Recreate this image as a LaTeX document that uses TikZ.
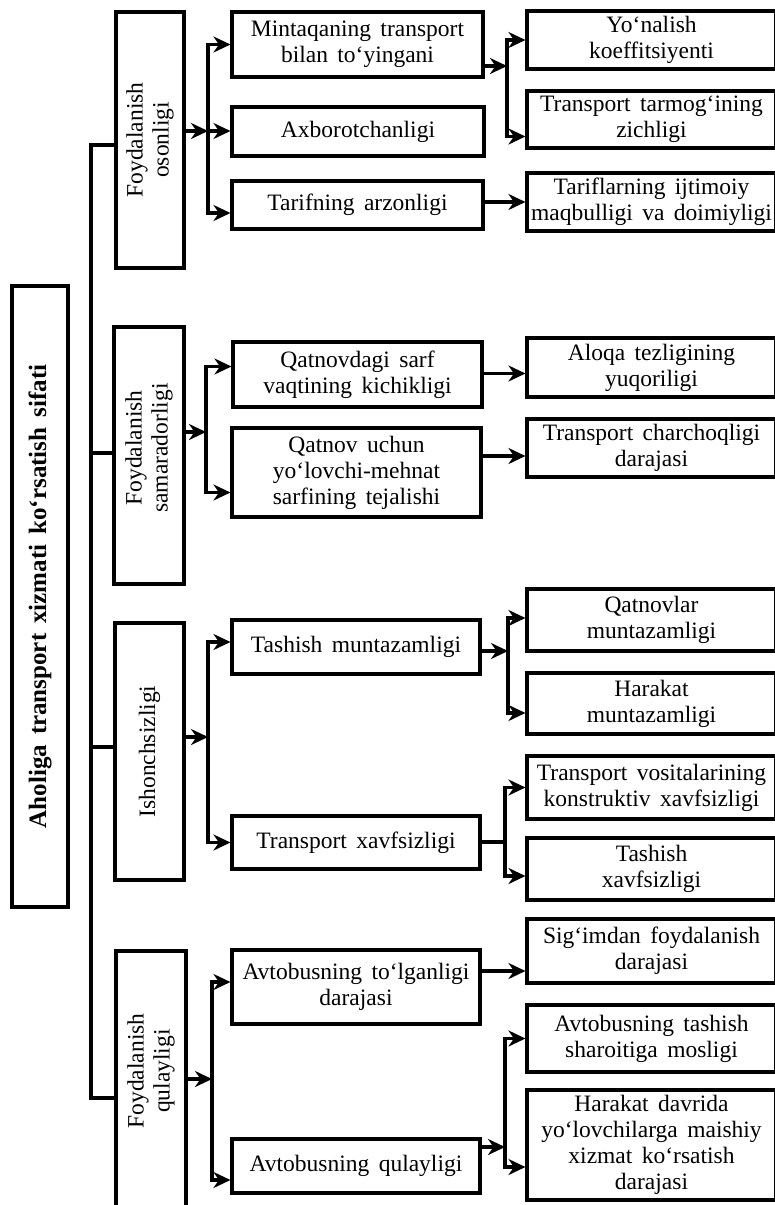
\documentclass[tikz,border=0pt]{standalone}
\usepackage{fontspec}
\setmainfont{Liberation Serif}[WordSpace=1.6]
\usetikzlibrary{arrows.meta}
\begin{document}
\begin{tikzpicture}[x=1pt,y=-1pt,
  box/.style={draw, line width=3.1pt, inner sep=0pt, align=center, font=\fontsize{23.5}{26}\selectfont},
  vbox/.style={box, rotate=90},
  arr/.style={line width=3.1pt, -{Stealth[length=17pt,width=16pt,inset=5.5pt]}},
  ln/.style={line width=3.1pt}]
\path[use as bounding box] (0,0) rectangle (775,1205);
\clip (0,0) rectangle (775,1205);

% main box
\node[vbox, minimum width=621pt, minimum height=56pt, font=\fontsize{25}{27}\selectfont\bfseries] (main) at (40,596.5) {Aholiga transport xizmati ko‘rsatish sifati};

% level-1 boxes (rotated)
\node[vbox, minimum width=256pt, minimum height=68pt] (A1) at (150,140) {Foydalanish\\osonligi};
\node[vbox, minimum width=257pt, minimum height=70pt] (A2) at (149,455.5) {};
\node[rotate=90, align=center, inner sep=0pt, font=\fontsize{23.5}{26}\selectfont] (A2t) at (149,448) {Foydalanish\\samaradorligi};
\node[vbox, minimum width=257pt, minimum height=69pt] (A3) at (149.5,751.5) {Ishonchsizligi};
\node[vbox, minimum width=279pt, minimum height=70pt] (A4) at (151,1090.5) {};
\node[rotate=90, align=center, inner sep=0pt, font=\fontsize{23.5}{26}\selectfont] (A4t) at (151,1071) {Foydalanish\\qulayligi};

% level-2 boxes
\node[box, minimum width=251pt, minimum height=65pt] (M1) at (357.5,44.5) {Mintaqaning transport\\bilan to‘yingani};
\node[box, minimum width=252pt, minimum height=49pt] (M2) at (358,131.5) {Axborotchanligi};
\node[box, minimum width=251pt, minimum height=48pt] (M3) at (357.5,205) {Tarifning arzonligi};
\node[box, minimum width=249pt, minimum height=65pt] (M4) at (357.5,374.5) {Qatnovdagi sarf\\vaqtining kichikligi};
\node[box, minimum width=249pt, minimum height=89pt] (M5) at (356.5,472.5) {Qatnov uchun\\yo‘lovchi-mehnat\\sarfining tejalishi};
\node[box, minimum width=248pt, minimum height=54pt] (M6) at (356,647) {Tashish muntazamligi};
\node[box, minimum width=248pt, minimum height=53pt] (M7) at (356,842.5) {Transport xavfsizligi};
\node[box, minimum width=248pt, minimum height=74pt] (M8) at (356,987) {Avtobusning to‘lganligi\\darajasi};
\node[box, minimum width=248pt, minimum height=54pt] (M9) at (356,1166) {Avtobusning qulayligi};

% level-3 boxes
\node[box, minimum width=249pt, minimum height=58pt] (R1) at (651.5,40) {Yo‘nalish\\koeffitsiyenti};
\node[box, minimum width=249pt, minimum height=57pt] (R2) at (651.5,119.5) {Transport tarmog‘ining\\zichligi};
\node[box, minimum width=249pt, minimum height=58pt] (R3) at (651.5,202) {Tariflarning ijtimoiy\\maqbulligi va doimiyligi};
\node[box, minimum width=249pt, minimum height=59pt] (R4) at (651.5,367.5) {Aloqa tezligining\\yuqoriligi};
\node[box, minimum width=249pt, minimum height=58pt] (R5) at (651.5,448) {Transport charchoqligi\\darajasi};
\node[box, minimum width=249pt, minimum height=62pt] (R6) at (651.5,620) {Qatnovlar\\muntazamligi};
\node[box, minimum width=249pt, minimum height=61pt] (R7) at (651.5,703.5) {Harakat\\muntazamligi};
\node[box, minimum width=249pt, minimum height=63pt] (R8) at (651.5,787.5) {Transport vositalarining\\konstruktiv xavfsizligi};
\node[box, minimum width=249pt, minimum height=62pt] (R9) at (651.5,869) {Tashish\\xavfsizligi};
\node[box, minimum width=249pt, minimum height=64pt] (R10) at (651.5,951) {Sig‘imdan foydalanish\\darajasi};
\node[box, minimum width=249pt, minimum height=67pt] (R11) at (651.5,1038.5) {Avtobusning tashish\\sharoitiga mosligi};
\node[box, minimum width=249pt, minimum height=110pt] (R12) at (651.5,1145) {Harakat davrida\\yo‘lovchilarga maishiy\\xizmat ko‘rsatish\\darajasi};

% trunk
\coordinate (tA) at (91,145);
\coordinate (tB) at (91,453);
\coordinate (tC) at (91,747);
\coordinate (tD) at (91,1098);
\draw[ln] (A1.north|-tA) -- (tA) -- (tD) -- (A4.north|-tD);
\draw[ln] (tB) -- (A2.north|-tB);
\draw[ln] (tC) -- (A3.north|-tC);

% section 1
\coordinate (sA) at (208,131);
\draw[arr] (A1.south|-sA) -- (sA);
\draw[arr] (sA) -- (M2.west|-sA);
\draw[arr] (sA) |- (M1.west);
\draw[arr] (sA) |- ([yshift=-8pt]M3.west);
\coordinate (sB) at (507,66);
\draw[arr] (M1.east|-sB) -- (sB);
\draw[arr] (sB) |- (R1.west);
\draw[arr] (sB) |- ([yshift=-17pt]R2.west);
\draw[arr] (M3.east|-R3.west) -- (R3.west);

% section 2
\coordinate (sC) at (206,432);
\draw[arr] (A2.south|-sC) -- (sC);
\draw[arr] (sC) |- ([yshift=8pt]M4.west);
\draw[arr] (sC) |- ([yshift=-20pt]M5.west);
\coordinate (r4in) at ([yshift=-6pt]R4.west);
\draw[arr] (M4.east|-r4in) -- (r4in);
\coordinate (r5in) at ([yshift=-8pt]R5.west);
\draw[arr] (M5.east|-r5in) -- (r5in);

% section 3
\coordinate (sD) at (208,737);
\draw[arr] (A3.south|-sD) -- (sD);
\draw[arr] (sD) |- ([yshift=5pt]M6.west);
\draw[arr] (sD) |- (M7.west);
\coordinate (sE) at (508,651);
\draw[arr] (M6.east|-sE) -- (sE);
\draw[arr] (sE) |- ([yshift=2pt]R6.west);
\draw[arr] (sE) |- ([yshift=-9.5pt]R7.west);
\coordinate (sF) at (505,842);
\draw[ln] (M7.east|-sF) -- (sF);
\draw[arr] (sF) |- (R8.west);
\draw[arr] (sF) |- ([yshift=-7pt]R9.west);

% section 4
\coordinate (sG) at (212,1079);
\draw[arr] (A4.south|-sG) -- (sG);
\draw[arr] (sG) |- ([yshift=5pt]M8.west);
\draw[arr] (sG) |- ([yshift=-14pt]M9.west);
\coordinate (r10in) at ([yshift=-20pt]R10.west);
\draw[arr] (M8.east|-r10in) -- (r10in);
\coordinate (sH) at (505,1147);
\draw[arr] (M9.east|-sH) -- (sH);
\draw[arr] (sH) |- (R11.west);
\draw[arr] (sH) |- ([yshift=-22pt]R12.west);
\end{tikzpicture}
\end{document}
